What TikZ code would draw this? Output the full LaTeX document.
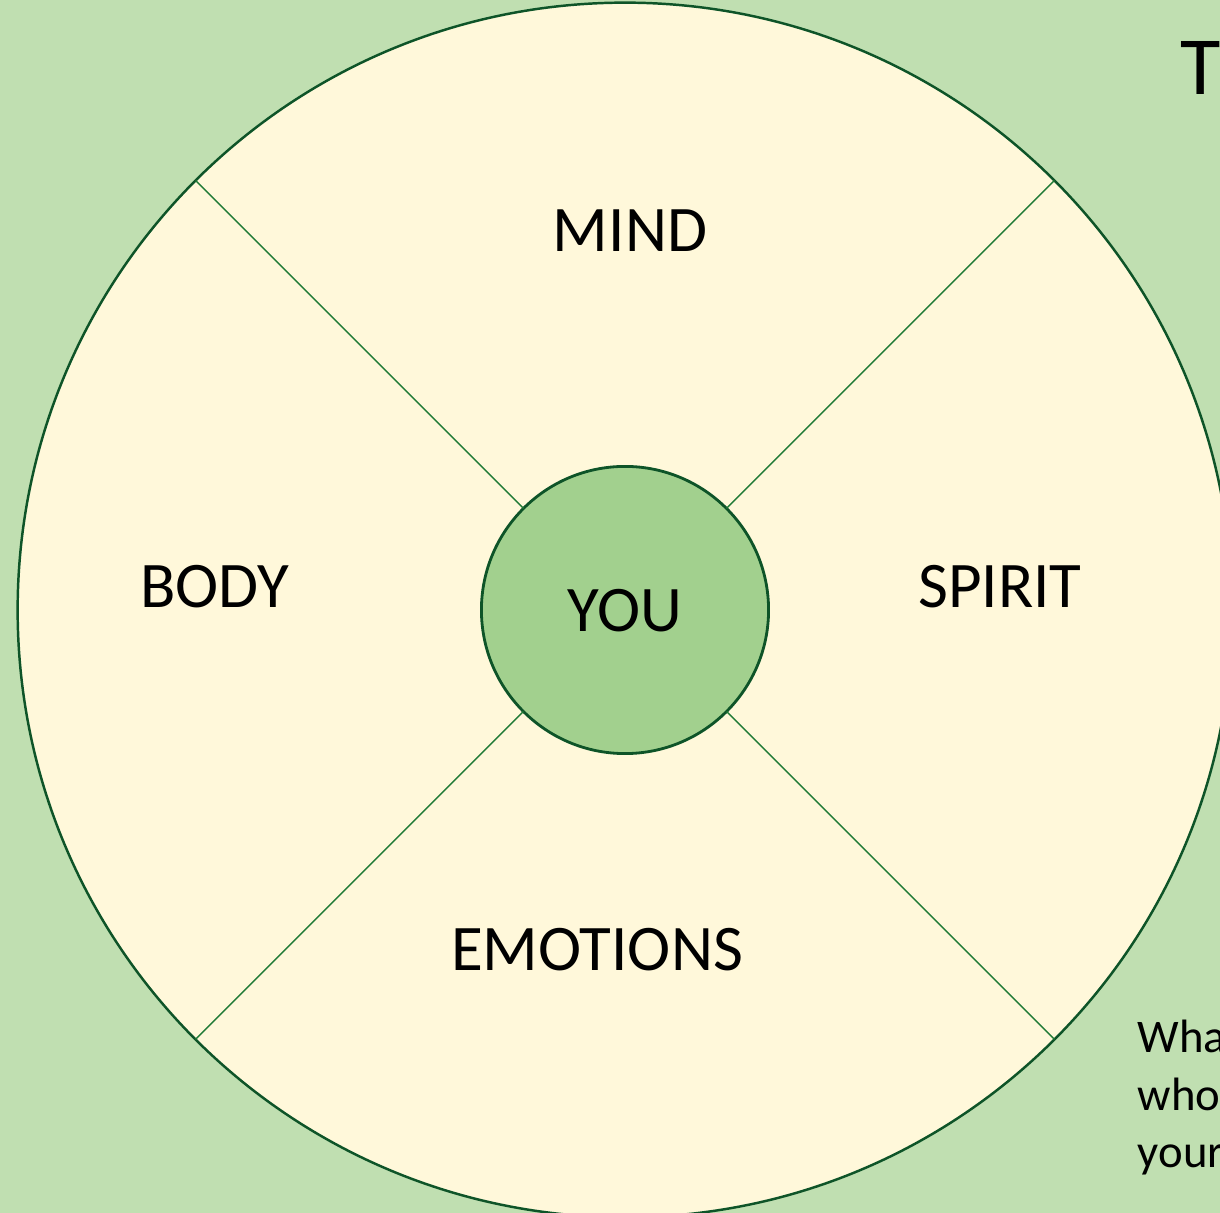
\documentclass[tikz,border=0pt]{standalone}
\usepackage{fontspec}
\setmainfont{Carlito}
\usepackage{xcolor}
\usetikzlibrary{positioning}
\definecolor{slideBg}{HTML}{C0DFB1}
\definecolor{wheelFill}{HTML}{FFF8DA}
\definecolor{youFill}{HTML}{A2D08E}
\definecolor{rimC}{HTML}{0E5428}
\definecolor{spokeC}{HTML}{1F7A35}

\begin{document}
\begin{tikzpicture}[
    x=0.01cm, y=-0.01cm,
    rim/.style={circle, draw=rimC, line width=0.7pt, inner sep=0pt, outer sep=0pt},
    spoke/.style={draw=spokeC, line width=0.4pt},
    part/.style={font=\fontsize{18.5}{22}\selectfont, anchor=base}
]
\useasboundingbox (0,0) rectangle (1220,1213);
\clip (0,0) rectangle (1220,1213);
\fill[slideBg] (0,0) rectangle (1220,1213);

\node[rim, fill=wheelFill, minimum size=12.14cm] (wheel) at (625,610) {};
\node[rim, fill=youFill, minimum size=2.87cm, line width=0.8pt] (you) at (625,610) {};

\draw[spoke] (you.45) -- (wheel.45);
\draw[spoke] (you.135) -- (wheel.135);
\draw[spoke] (you.225) -- (wheel.225);
\draw[spoke] (you.315) -- (wheel.315);

\node[part] (mind) at (630,252) {MIND};
\node[part] (body) at (215,608) {BODY};
\node[part] (spirit) at (1000,608) {SPIRIT};
\node[part] (emotions) at (597,971) {EMOTIONS};
\node[part] (youlabel) at (625,632) {YOU};

\node[anchor=base west, inner sep=0pt, font=\fontsize{23.5}{28}\selectfont] (title) at (1180,95) {T};
\node[anchor=base west, inner sep=0pt, align=left, font=\fontsize{13.3}{16.4}\selectfont] (question) at (1137,1168) {Wha\\who\\your};
\end{tikzpicture}
\end{document}
